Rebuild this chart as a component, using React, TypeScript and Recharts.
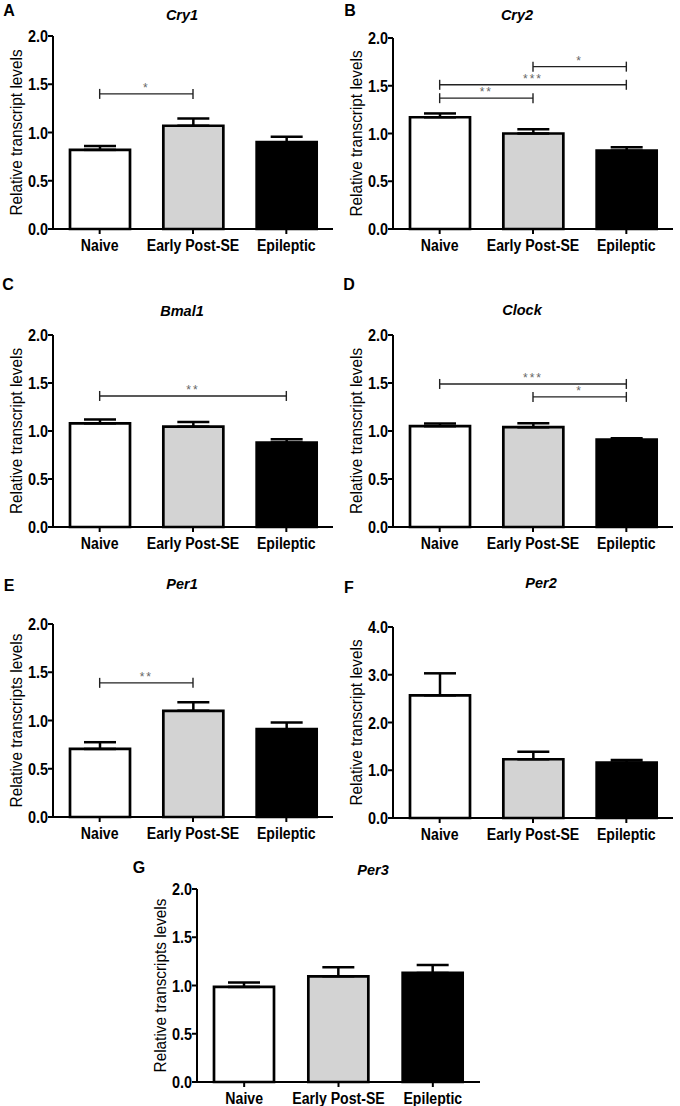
import React from 'react';
import { BarChart, Bar, XAxis, YAxis, ErrorBar, Cell, ReferenceLine } from 'recharts';

const groups = ['Naive', 'Early Post-SE', 'Epileptic'];
const fills = ['#ffffff', '#d3d3d3', '#000000'];

const cry1Mean = [0.82, 1.07, 0.9];
const cry1Sem = [0.04, 0.075, 0.055];
const cry2Mean = [1.17, 1.0, 0.82];
const cry2Sem = [0.04, 0.045, 0.035];
const bmal1Mean = [1.08, 1.045, 0.88];
const bmal1Sem = [0.04, 0.05, 0.035];
const clockMean = [1.05, 1.04, 0.91];
const clockSem = [0.028, 0.042, 0.014];
const per1Mean = [0.705, 1.1, 0.91];
const per1Sem = [0.07, 0.09, 0.07];
const per2Mean = [2.57, 1.23, 1.16];
const per2Sem = [0.46, 0.155, 0.055];
const per3Mean = [0.985, 1.095, 1.13];
const per3Sem = [0.046, 0.094, 0.083];

const ticks2 = [0, 0.5, 1, 1.5, 2];
const ticks4 = [0, 1, 2, 3, 4];

type Sig = { from: string; to: string; y: number; stars: string };

const cry1Sig: Sig[] = [{ from: 'Naive', to: 'Early Post-SE', y: 1.4, stars: '*' }];
const cry2Sig: Sig[] = [
  { from: 'Naive', to: 'Early Post-SE', y: 1.37, stars: '**' },
  { from: 'Naive', to: 'Epileptic', y: 1.51, stars: '***' },
  { from: 'Early Post-SE', to: 'Epileptic', y: 1.7, stars: '*' },
];
const bmal1Sig: Sig[] = [{ from: 'Naive', to: 'Epileptic', y: 1.365, stars: '**' }];
const clockSig: Sig[] = [
  { from: 'Naive', to: 'Epileptic', y: 1.49, stars: '***' },
  { from: 'Early Post-SE', to: 'Epileptic', y: 1.355, stars: '*' },
];
const per1Sig: Sig[] = [{ from: 'Naive', to: 'Early Post-SE', y: 1.39, stars: '**' }];
const noSig: Sig[] = [];

const FONT = '"Liberation Sans", Arial, Helvetica, sans-serif';

function XTick(props: any) {
  const { x, y, payload } = props;
  return (
    <g transform={`translate(${x},${y})`}>
      <text
        transform="scale(0.83,1)"
        textAnchor="middle"
        dy={17}
        fill="#000"
        fontSize={17}
        fontWeight="bold"
        fontFamily={FONT}
      >
        {payload.value}
      </text>
    </g>
  );
}

function YTick(props: any) {
  const { x, y, payload, fmt } = props;
  return (
    <g transform={`translate(${x},${y})`}>
      <text
        transform="scale(0.85,1)"
        textAnchor="end"
        dy="0.36em"
        fill="#000"
        fontSize={17}
        fontWeight="bold"
        fontFamily={FONT}
      >
        {fmt(payload.value)}
      </text>
    </g>
  );
}

function makeYLabel(text: string, dxFromAxis: number) {
  return (props: any) => {
    const vb = props.viewBox || {};
    const cx = (vb.x || 0) + (vb.width || 0) - dxFromAxis;
    const cy = (vb.y || 0) + (vb.height || 0) / 2;
    return (
      <text
        transform={`translate(${cx},${cy}) rotate(-90) scale(0.93,1)`}
        textAnchor="middle"
        dominantBaseline="central"
        fill="#000"
        fontSize={16.5}
        fontFamily={FONT}
      >
        {text}
      </text>
    );
  };
}

type PanelProps = {
  mean: number[];
  sem: number[];
  sig: Sig[];
  domainMax: number;
  ticks: number[];
  ylabel: string;
  axisX: number;
  top: number;
  bottom: number;
  right: number;
};

function Panel({ mean, sem, sig, domainMax, ticks, ylabel, axisX, top, bottom, right }: PanelProps) {
  const ML = 62;
  const MT = 24;
  const XH = 40;
  const MR = 4;
  const plotH = bottom - top;
  const width = right - axisX + ML + MR;
  const height = plotH + MT + XH;
  const data = groups.map((g, i) => ({ name: g, mean: mean[i], err: [0, sem[i]] }));
  const tickHalf = (5 * domainMax) / plotH;
  const fmt = (v: number) => v.toFixed(1);
  return (
    <div style={{ position: 'absolute', left: axisX - ML, top: top - MT }}>
      <BarChart
        width={width}
        height={height}
        data={data}
        margin={{ top: MT, right: MR, left: 0, bottom: 0 }}
        barSize={60}
      >
        <XAxis
          dataKey="name"
          height={XH}
          interval={0}
          axisLine={{ stroke: '#000', strokeWidth: 2 }}
          tickLine={{ stroke: '#000', strokeWidth: 2 }}
          tickSize={5}
          tickMargin={0}
          tick={<XTick />}
        />
        <YAxis
          type="number"
          width={ML}
          domain={[0, domainMax]}
          ticks={ticks}
          interval={0}
          axisLine={{ stroke: '#000', strokeWidth: 2 }}
          tickLine={{ stroke: '#000', strokeWidth: 2 }}
          tickSize={5}
          tickMargin={0}
          tick={<YTick fmt={fmt} />}
          label={makeYLabel(ylabel, 37)}
        />
        {sig.map((s, i) => (
          <ReferenceLine
            key={'h' + i}
            segment={[
              { x: s.from, y: s.y },
              { x: s.to, y: s.y },
            ]}
            stroke="#222"
            strokeWidth={1.4}
            label={{ value: s.stars, position: 'top', offset: 2, fill: '#666', fontSize: 12, fontFamily: FONT, letterSpacing: 2 }}
          />
        ))}
        {sig.map((s, i) => (
          <ReferenceLine
            key={'a' + i}
            segment={[
              { x: s.from, y: s.y - tickHalf },
              { x: s.from, y: s.y + tickHalf },
            ]}
            stroke="#222"
            strokeWidth={1.4}
          />
        ))}
        {sig.map((s, i) => (
          <ReferenceLine
            key={'b' + i}
            segment={[
              { x: s.to, y: s.y - tickHalf },
              { x: s.to, y: s.y + tickHalf },
            ]}
            stroke="#222"
            strokeWidth={1.4}
          />
        ))}
        <Bar dataKey="mean" isAnimationActive={false} stroke="#000" strokeWidth={2.7}>
          {data.map((d, i) => (
            <Cell key={d.name} fill={fills[i]} />
          ))}
          <ErrorBar dataKey="err" width={16} stroke="#000" strokeWidth={2.5} direction="y" />
        </Bar>
      </BarChart>
    </div>
  );
}

function Txt({ x, y, text, italic, size }: { x: number; y: number; text: string; italic?: boolean; size: number }) {
  return (
    <div
      style={{
        position: 'absolute',
        left: x,
        top: y,
        transform: 'translate(-50%, -50%)',
        fontFamily: FONT,
        fontWeight: 'bold',
        fontStyle: italic ? 'italic' : 'normal',
        fontSize: size,
        lineHeight: 1,
        whiteSpace: 'nowrap',
        color: '#000',
      }}
    >
      {text}
    </div>
  );
}

const L1 = 'Relative transcript levels';
const L2 = 'Relative transcripts levels';

export default function App() {
  return (
    <div
      style={{
        position: 'absolute',
        left: 0,
        top: 0,
        width: 680,
        height: 1106,
        overflow: 'hidden',
        background: '#fff',
      }}
    >
      <Txt x={9} y={11} text="A" size={16} />
      <Txt x={350} y={11} text="B" size={16} />
      <Txt x={8} y={285} text="C" size={16} />
      <Txt x={349} y={285} text="D" size={16} />
      <Txt x={9} y={586} text="E" size={16} />
      <Txt x={349} y={588} text="F" size={16} />
      <Txt x={139} y={868} text="G" size={16} />

      <Txt x={182} y={15} text="Cry1" size={14.5} italic />
      <Txt x={517} y={15} text="Cry2" size={14.5} italic />
      <Txt x={182} y={311} text="Bmal1" size={14.5} italic />
      <Txt x={522} y={310} text="Clock" size={14.5} italic />
      <Txt x={182} y={584} text="Per1" size={14.5} italic />
      <Txt x={541} y={583} text="Per2" size={14.5} italic />
      <Txt x={373} y={870} text="Per3" size={14.5} italic />

      <Panel mean={cry1Mean} sem={cry1Sem} sig={cry1Sig} domainMax={2} ticks={ticks2} ylabel={L1} axisX={53} top={36} bottom={229} right={333} />
      <Panel mean={cry2Mean} sem={cry2Sem} sig={cry2Sig} domainMax={2} ticks={ticks2} ylabel={L1} axisX={393} top={38} bottom={229} right={673} />
      <Panel mean={bmal1Mean} sem={bmal1Sem} sig={bmal1Sig} domainMax={2} ticks={ticks2} ylabel={L1} axisX={53} top={335} bottom={527} right={333} />
      <Panel mean={clockMean} sem={clockSem} sig={clockSig} domainMax={2} ticks={ticks2} ylabel={L1} axisX={393} top={335} bottom={527} right={673} />
      <Panel mean={per1Mean} sem={per1Sem} sig={per1Sig} domainMax={2} ticks={ticks2} ylabel={L2} axisX={53} top={624} bottom={817} right={333} />
      <Panel mean={per2Mean} sem={per2Sem} sig={noSig} domainMax={4} ticks={ticks4} ylabel={L1} axisX={393} top={627} bottom={818} right={673} />
      <Panel mean={per3Mean} sem={per3Sem} sig={noSig} domainMax={2} ticks={ticks2} ylabel={L2} axisX={197} top={889} bottom={1082} right={480} />
    </div>
  );
}
